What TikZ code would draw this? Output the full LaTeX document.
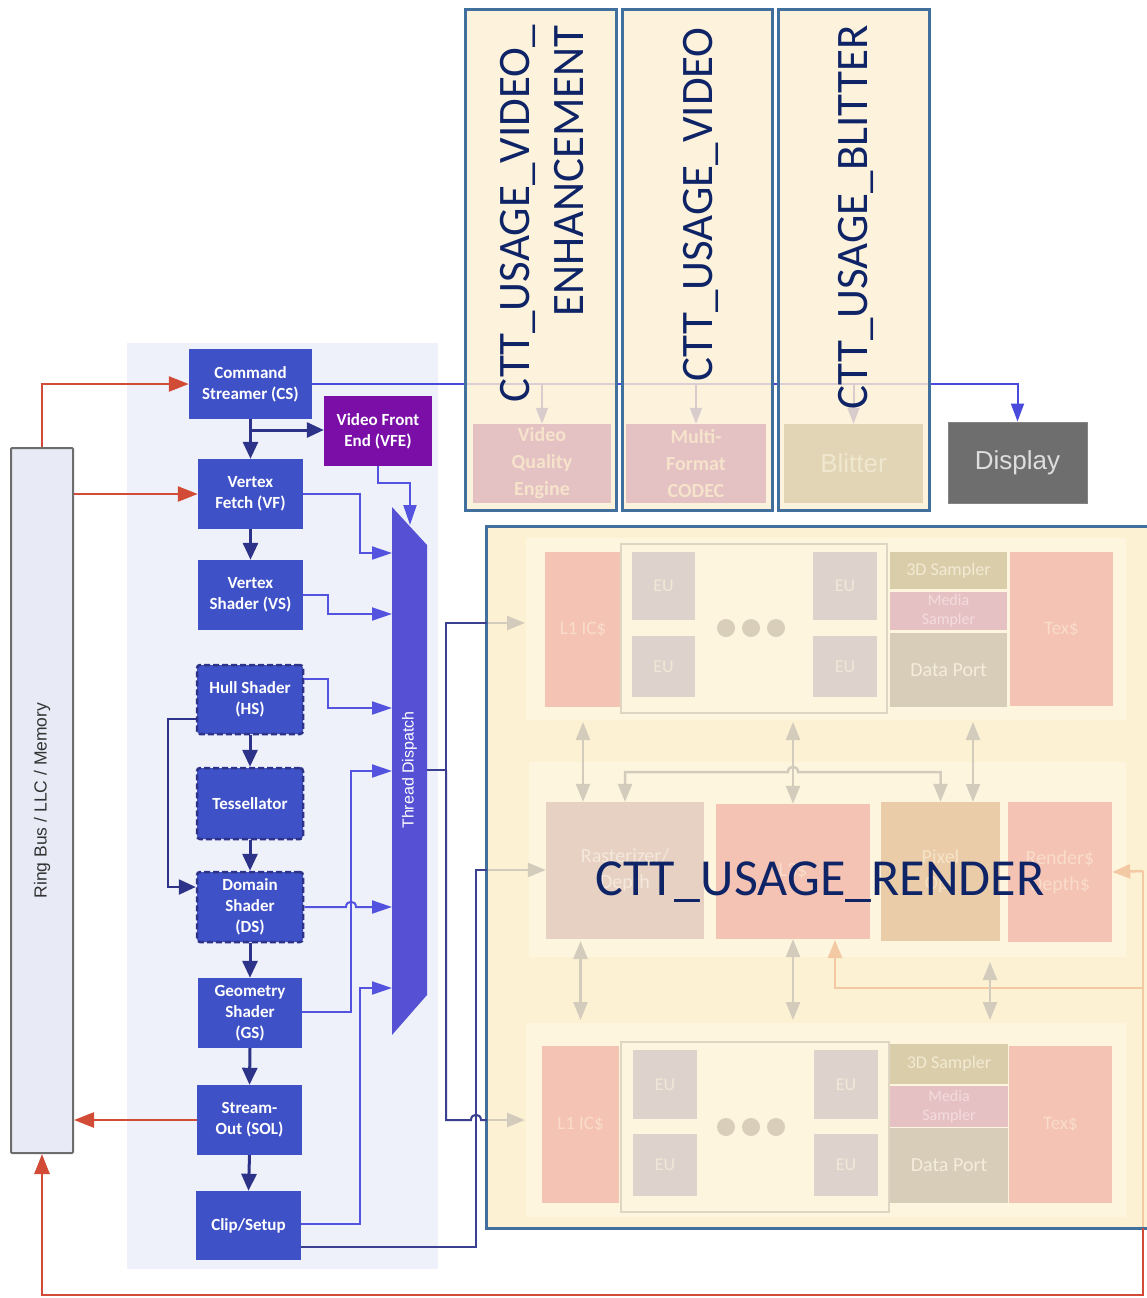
\documentclass[tikz,border=0pt]{standalone}
\usepackage{fontspec}
\setmainfont{Carlito}
\newfontfamily\arialf{Liberation Sans}
\usetikzlibrary{arrows.meta}
\definecolor{pblue}{HTML}{3F51C6}
\definecolor{navy}{HTML}{2D3389}
\definecolor{navyl}{HTML}{3B3F8F}
\definecolor{lblue}{HTML}{5353E0}
\definecolor{clinec}{HTML}{4B4BDB}
\definecolor{tdcol}{HTML}{5650D4}
\definecolor{vfecol}{HTML}{7A0EA6}
\definecolor{rline}{HTML}{D24B36}
\definecolor{panelbg}{HTML}{EEF1F9}
\definecolor{ringfill}{HTML}{E8EAF6}
\definecolor{ringdraw}{HTML}{6D6D6D}
\definecolor{cttblue}{HTML}{41709F}
\definecolor{cttyel}{HTML}{FDF1D4}
\definecolor{panelyel}{HTML}{FEF5DE}
\definecolor{ctttext}{HTML}{0E2466}
\definecolor{dispgray}{HTML}{6E6E6E}
\definecolor{dispt}{HTML}{DEDEDE}
\definecolor{salm}{HTML}{F4C3B3}
\definecolor{salmt}{HTML}{F9DCCB}
\definecolor{euf}{HTML}{DDD3CC}
\definecolor{eut}{HTML}{F2E7D6}
\definecolor{dotc}{HTML}{D8CEBA}
\definecolor{sdf}{HTML}{D9CDAA}
\definecolor{sdt}{HTML}{F3EAD3}
\definecolor{msf}{HTML}{E6C1C3}
\definecolor{mst}{HTML}{F4DCDC}
\definecolor{dpf}{HTML}{D8CDB9}
\definecolor{dpt}{HTML}{F5ECDB}
\definecolor{rastf}{HTML}{E6D1C2}
\definecolor{rastt}{HTML}{F5E8DC}
\definecolor{pixf}{HTML}{EBCCA8}
\definecolor{pixt}{HTML}{F5E3C7}
\definecolor{glinec}{HTML}{D3CBBC}
\definecolor{olinec}{HTML}{F3C9A3}
\definecolor{eubord}{HTML}{DED5C2}
\definecolor{vqef}{HTML}{E4C1C2}
\definecolor{vqet}{HTML}{F6E3CB}
\definecolor{blitf}{HTML}{E1D5B5}
\definecolor{blitt}{HTML}{F0E7CF}
\definecolor{farrc}{HTML}{D8CCCC}
\tikzset{
  pbox/.style={fill=pblue, text=white, inner sep=0pt, align=center, font=\bfseries\fontsize{17}{21}\selectfont},
  dbox/.style={pbox, draw=navy, line width=2.5pt, dash pattern=on 6pt off 3pt, rounded corners=3pt},
  darr/.style={draw=navy, line width=3pt, -{Triangle[length=17pt,width=15pt]}},
  barr/.style={draw=lblue, line width=2pt, -{Triangle[length=20pt,width=13pt]}},
  rarr/.style={draw=rline, line width=2.5pt, -{Triangle[length=20pt,width=15pt]}},
  nline/.style={draw=navyl, line width=2pt},
  garr/.style={draw=glinec, line width=2.5pt, -{Triangle[length=18pt,width=14pt]}},
  gdarr/.style={draw=glinec, line width=2.5pt, {Triangle[length=18pt,width=14pt]}-{Triangle[length=18pt,width=14pt]}},
  oarr/.style={draw=olinec, line width=2.5pt, -{Triangle[length=18pt,width=14pt]}},
  farr/.style={draw=farrc, line width=2pt, -{Triangle[length=16pt,width=12pt]}},
  rb/.style={inner sep=0pt, align=center},
  cttbox/.style={fill=cttyel, fill opacity=0.8, draw=cttblue, draw opacity=1, line width=3pt, inner sep=0pt, minimum height=500pt},
  ctttxt/.style={text=ctttext, inner sep=0pt, font=\fontsize{45}{54}\selectfont, rotate=90, anchor=north east, align=right},
  eub/.style={rb, fill=euf, text=eut, font=\fontsize{18}{22}\selectfont},
}
\begin{document}
\begin{tikzpicture}[x=1pt,y=-1pt]
\useasboundingbox (0,0) rectangle (1146,1298);
\fill[white] (0,0) rectangle (1146,1298);
% pipeline panel
\fill[panelbg] (127,343) rectangle (438,1269);
% ring bus
\node[draw=ringdraw, line width=2pt, fill=ringfill, minimum width=62pt, minimum height=705pt, inner sep=0pt, rounded corners=1pt] (ring) at (42,800.5) {};
\node[rotate=90, font=\arialf\fontsize{17.5}{20}\selectfont, text=black!80] (ringtxt) at (ring.center) {Ring Bus / LLC / Memory};
% pipeline boxes
\node[pbox, minimum width=123pt, minimum height=70pt] (CS) at (250.5,384) {Command\\Streamer (CS)};
\node[pbox, fill=vfecol, minimum width=108pt, minimum height=70pt] (VFE) at (378,431) {Video Front\\End (VFE)};
\node[pbox, minimum width=105pt, minimum height=70pt] (VF) at (250.5,494) {Vertex\\Fetch (VF)};
\node[pbox, minimum width=105pt, minimum height=70pt] (VS) at (250.5,595) {Vertex\\Shader (VS)};
\node[dbox, minimum width=106pt, minimum height=69pt] (HS) at (250,699.5) {Hull Shader\\(HS)};
\node[dbox, minimum width=106pt, minimum height=71pt] (Tess) at (250,803.5) {Tessellator};
\node[dbox, minimum width=106pt, minimum height=70pt] (DS) at (250,907) {Domain\\Shader\\(DS)};
\node[pbox, minimum width=104pt, minimum height=70pt] (GS) at (250,1013) {Geometry\\Shader\\(GS)};
\node[pbox, minimum width=105pt, minimum height=70pt] (SOL) at (249.5,1120) {Stream-\\Out (SOL)};
\node[pbox, minimum width=105pt, minimum height=69pt] (Clip) at (248.5,1225.5) {Clip/Setup};
% thread dispatch
\fill[tdcol] (392,507) -- (427,545) -- (427,995) -- (392,1035) -- cycle;
\node[rotate=90, text=white, font=\arialf\fontsize{16}{19}\selectfont] (td) at (409.5,770) {Thread Dispatch};
\coordinate (tdL) at (392,770);
\coordinate (tdR) at (427,770);
% display
\node[fill=dispgray, draw=dispgray!85!white, line width=1pt, minimum width=139pt, minimum height=81pt, inner sep=0pt, text=dispt, font=\arialf\fontsize{26}{30}\selectfont] (Display) at (1017.5,462.5) {Display};
% CS line to display
\draw[draw=clinec, line width=2pt, -{Triangle[length=18pt,width=13pt]}] (CS.east) -- (CS.east -| Display.north) -- (Display.north);
% CTT boxes
\node[cttbox, minimum width=151pt] (ctt1) at (540.5,260) {};
\node[cttbox, minimum width=150pt] (ctt2) at (697,260) {};
\node[cttbox, minimum width=151pt] (ctt3) at (853.5,260) {};
\node[rb, fill=vqef, text=vqet, minimum width=138pt, minimum height=79pt, font=\bfseries\fontsize{20}{27}\selectfont] (VQE) at (542,463.5) {Video\\Quality\\Engine};
\node[rb, fill=vqef, text=vqet, minimum width=140pt, minimum height=79pt, font=\bfseries\fontsize{20}{27}\selectfont] (MFC) at (696,463.5) {Multi-\\Format\\CODEC};
\node[rb, fill=blitf, text=blitt, minimum width=139pt, minimum height=79pt, font=\arialf\fontsize{26}{30}\selectfont] (Blit) at (853.5,463.5) {Blitter};
\draw[farr] (VQE.north |- CS.east) -- (VQE.north);
\draw[farr] (MFC.north |- CS.east) -- (MFC.north);
\draw[farr] (Blit.north |- CS.east) -- (Blit.north);
\node[ctttxt] (t1) at (500,25) {CTT\_USAGE\_VIDEO\_\\ENHANCEMENT};
\node[ctttxt] (t2) at (683,27) {CTT\_USAGE\_VIDEO};
\node[ctttxt] (t3) at (838,25) {CTT\_USAGE\_BLITTER};
% render box
\node[fill=cttyel, inner sep=0pt, minimum width=663pt, minimum height=701pt] (render) at (818.5,877.5) {};
\fill[panelyel] (526,538) rectangle (1126,720);
\fill[panelyel] (529,762) rectangle (1126,957);
\fill[panelyel] (526,1023) rectangle (1126,1217);
% top EU row
\node[rb, fill=salm, text=salmt, minimum width=76pt, minimum height=155pt, font=\fontsize{19}{23}\selectfont] (L1a) at (583,629.5) {L1 IC\$};
\node[draw=eubord, line width=2pt, minimum width=266pt, minimum height=169pt, inner sep=0pt] (EUa) at (754,628.5) {};
\node[eub, minimum width=63pt, minimum height=68pt] (EU1) at (663.5,586) {EU};
\node[eub, minimum width=63pt, minimum height=61pt] (EU2) at (663.5,666.5) {EU};
\node[eub, minimum width=64pt, minimum height=68pt] (EU3) at (845,586) {EU};
\node[eub, minimum width=64pt, minimum height=61pt] (EU4) at (845,666.5) {EU};
\foreach \cx in {726,751,776} \fill[dotc] (\cx,628) circle[radius=9pt];
\node[rb, fill=sdf, text=sdt, minimum width=117pt, minimum height=37pt, font=\fontsize{18}{22}\selectfont] (S3a) at (948.5,570.5) {3D Sampler};
\node[rb, fill=msf, text=mst, minimum width=117pt, minimum height=38pt, font=\fontsize{16}{19}\selectfont] (MSa) at (948.5,611) {Media\\Sampler};
\node[rb, fill=dpf, text=dpt, minimum width=117pt, minimum height=74pt, font=\fontsize{20}{24}\selectfont] (DPa) at (948.5,670) {Data Port};
\node[rb, fill=salm, text=salmt, minimum width=103pt, minimum height=154pt, font=\fontsize{19}{23}\selectfont] (Texa) at (1061.5,629) {Tex\$};
% middle row
\node[rb, fill=rastf, text=rastt, minimum width=158pt, minimum height=137pt, font=\fontsize{20}{26}\selectfont] (Rast) at (625,870.5) {Rasterizer/\\Depth};
\node[rb, fill=salm, text=salmt, minimum width=154pt, minimum height=135pt, font=\fontsize{20}{26}\selectfont] (L3) at (793,871.5) {L3\$};
\node[rb, fill=pixf, text=pixt, minimum width=119pt, minimum height=139pt, font=\fontsize{20}{26}\selectfont] (Pix) at (940.5,871.5) {Pixel\\Ops};
\node[rb, fill=salm, text=salmt, minimum width=104pt, minimum height=140pt, font=\fontsize{20}{26}\selectfont] (RenD) at (1060,872) {Render\$\\Depth\$};
% bottom EU row
\node[rb, fill=salm, text=salmt, minimum width=77pt, minimum height=157pt, font=\fontsize{19}{23}\selectfont] (L1b) at (580.5,1124.5) {L1 IC\$};
\node[draw=eubord, line width=2pt, minimum width=268pt, minimum height=170pt, inner sep=0pt] (EUb) at (755,1127) {};
\node[eub, minimum width=64pt, minimum height=69pt] (EU5) at (665,1084.5) {EU};
\node[eub, minimum width=64pt, minimum height=62pt] (EU6) at (665,1165) {EU};
\node[eub, minimum width=64pt, minimum height=69pt] (EU7) at (846,1084.5) {EU};
\node[eub, minimum width=64pt, minimum height=62pt] (EU8) at (846,1165) {EU};
\foreach \cx in {726,751,776} \fill[dotc] (\cx,1127) circle[radius=9pt];
\node[rb, fill=sdf, text=sdt, minimum width=118pt, minimum height=40pt, font=\fontsize{18}{22}\selectfont] (S3b) at (949,1064) {3D Sampler};
\node[rb, fill=msf, text=mst, minimum width=118pt, minimum height=41pt, font=\fontsize{16}{19}\selectfont] (MSb) at (949,1106.5) {Media\\Sampler};
\node[rb, fill=dpf, text=dpt, minimum width=118pt, minimum height=75pt, font=\fontsize{20}{24}\selectfont] (DPb) at (949,1165.5) {Data Port};
\node[rb, fill=salm, text=salmt, minimum width=103pt, minimum height=157pt, font=\fontsize{19}{23}\selectfont] (Texb) at (1060.5,1124.5) {Tex\$};
% orange faded
\coordinate (oc) at (1143,871);
\coordinate (rbc) at (1143,1228);
\draw[oarr] (oc) -- (RenD.east);
\draw[draw=olinec, line width=2.5pt] (oc) -- (rbc);
\draw[oarr] (1143,988) -- (835,988) -- (835,940);
% gray faded arrows
\draw[gdarr] (L1a.south |- 0,722) -- (L1a.south |- Rast.north);
\draw[gdarr] (L3.north |- 0,722) -- (L3.north);
\draw[gdarr] (973,722) -- (973,802);
\draw[gdarr] (Rast.north) -- (Rast.north |- 0,772) -- (788,772) .. controls (788,765) and (798,765) .. (798,772) -- (Pix.north |- 0,772) -- (Pix.north);
\draw[gdarr] (L1b.north |- 0,941) -- (L1b.north |- 0,1020);
\draw[gdarr] (L3.south) -- (L3.south |- 0,1020);
\draw[gdarr] (990,962) -- (990,1020);
\draw[garr] (render.west |- 0,623) -- (525,623);
\draw[garr] (render.west |- 0,1120) -- (525,1120);
\draw[garr] (render.west |- 0,870) -- (Rast.west |- 0,870);
% render border and label
\draw[cttblue, line width=3pt] (render.north east) -- (render.north west) -- (render.south west) -- (render.south east);
\node[font=\fontsize{52}{60}\selectfont, text=ctttext, anchor=base, inner sep=0pt] (rtxt) at (820,895) {CTT\_USAGE\_RENDER};
% red arrows
\draw[rarr] (ring.north) -- (ring.north |- CS.west) -- (CS.west);
\draw[rarr] (ring.east |- VF.west) -- (VF.west);
\draw[rarr] (SOL.west) -- (ring.east |- SOL.west);
\draw[rarr] (rbc) -- (1143,1295) -- (ring.south |- 0,1295) -- (ring.south);
% dark pipeline arrows
\draw[darr] (CS.south) -- (VF.north);
\draw[darr] (CS.south |- 0,430) -- (VFE.west |- 0,430);
\draw[darr] (VF.south) -- (VS.north);
\draw[darr] (HS.south) -- (Tess.north);
\draw[darr] (Tess.south) -- (DS.north);
\draw[darr] (DS.south) -- (GS.north);
\draw[darr] (GS.south) -- (SOL.north);
\draw[darr] (SOL.south) -- (Clip.north);
\draw[darr, line width=2.5pt] (HS.west |- 0,719) -- (168,719) -- (168,887) -- (DS.west |- 0,887);
% blue arrows into thread dispatch
\draw[barr] (VF.east) -- (360,494) -- (360,553) -- (tdL |- 0,553);
\draw[barr] (VS.east) -- (328,595) -- (328,614) -- (tdL |- 0,614);
\draw[barr] (HS.east |- 0,679) -- (328,679) -- (328,708) -- (tdL |- 0,708);
\draw[barr] (GS.east |- 0,1012) -- (351,1012) -- (351,771) -- (tdL |- 0,771);
\draw[barr] (DS.east) -- (346,907) .. controls (346,900) and (356,900) .. (356,907) -- (tdL |- 0,907);
\draw[barr] (Clip.east |- 0,1224) -- (360,1224) -- (360,988) -- (tdL |- 0,988);
\draw[barr] (VFE.south) -- (378,483) -- (410,483) -- (410,525);
% navy lines to render
\draw[nline] (tdR) -- (446,770) -- (446,623) -- (render.west |- 0,623);
\draw[nline] (446,770) -- (446,1120) -- (471,1120) .. controls (471,1113) and (481,1113) .. (481,1120) -- (render.west |- 0,1120);
\draw[nline] (Clip.east |- 0,1247) -- (476,1247) -- (476,870) -- (render.west |- 0,870);
\end{tikzpicture}
\end{document}
